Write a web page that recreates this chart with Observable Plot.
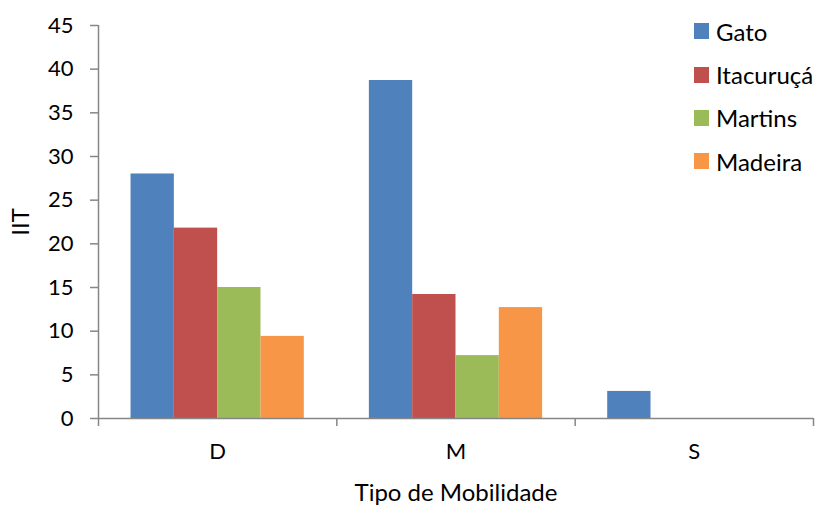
<!DOCTYPE html>
<html>
<head>
<meta charset="utf-8">
<script src="https://cdn.jsdelivr.net/npm/d3@7"></script>
<script src="https://cdn.jsdelivr.net/npm/@observablehq/plot@0.6"></script>
<style>
  body { margin: 0; background: #fff; }
  #wrap { position: relative; width: 818px; height: 505px; font-family: Lato, "Open Sans", sans-serif; }
  #legend { position: absolute; left: 694px; top: 9.5px; font-size: 24px; color: #000; }
  #legend .row { display: flex; align-items: center; height: 43.4px; }
  #legend .sw { width: 15px; height: 16px; margin-right: 7px; }
</style>
</head>
<body>
<div id="wrap"></div>
<script>
const categories = ["D", "M", "S"];
const series = ["Gato", "Itacuruçá", "Martins", "Madeira"];
const colors = ["#4F81BD", "#C0504D", "#9BBB59", "#F79646"];
const values = {
  "Gato":      [28.0, 38.7, 3.1],
  "Itacuruçá": [21.8, 14.2, 0],
  "Martins":   [15.0, 7.2, 0],
  "Madeira":   [9.4, 12.7, 0]
};
const yTicks = [0, 5, 10, 15, 20, 25, 30, 35, 40, 45];

const groupFrac = 0.727;
const pad = (1 - groupFrac) / 2;
const w = groupFrac / series.length;
const data = [];
categories.forEach((c, i) => series.forEach((s, j) => {
  data.push({cat: c, series: s, value: values[s][i],
             x1: i + pad + j * w, x2: i + pad + (j + 1) * w});
}));

const axisColor = "#868686";
const chart = Plot.plot({
  width: 818, height: 505,
  marginLeft: 98, marginRight: 5, marginTop: 25, marginBottom: 87,
  style: {fontFamily: "Lato, 'Open Sans', sans-serif", fontSize: "22px", color: "#000", background: "#fff"},
  x: {domain: [0, categories.length]},
  y: {domain: [0, 45]},
  color: {domain: series, range: colors},
  marks: [
    Plot.rectY(data, {x1: "x1", x2: "x2", y: "value", fill: "series"}),
    Plot.ruleX([0], {stroke: axisColor, strokeWidth: 1.5}),
    Plot.ruleY([0], {stroke: axisColor, strokeWidth: 1.5}),
    Plot.axisY({ticks: yTicks, tickSize: 8, tickPadding: 17, stroke: axisColor, strokeWidth: 1.5,
                fontSize: 22, fill: "#000", label: null}),
    Plot.axisY({ticks: [], tickSize: 0, label: "IIT", labelAnchor: "center", labelArrow: "none",
                labelOffset: 87, fontSize: 24, fill: "#000"}),
    Plot.axisX({ticks: d3.range(categories.length + 1), tickSize: 8, tickFormat: () => "",
                stroke: axisColor, strokeWidth: 1.5, label: null}),
    Plot.axisX({ticks: categories.map((c, i) => i + 0.5), tickSize: 0, tickPadding: 25,
                tickFormat: (d) => categories[Math.floor(d)], fill: "#000", fontSize: 22, label: null}),
    Plot.axisX({ticks: [], tickSize: 0, label: "Tipo de Mobilidade", labelAnchor: "center",
                labelArrow: "none", labelOffset: 82, fontSize: 24, fill: "#000"})
  ]
});
const wrap = document.getElementById("wrap");
wrap.appendChild(chart);

const legend = document.createElement("div");
legend.id = "legend";
series.forEach((s, j) => {
  const row = document.createElement("div");
  row.className = "row";
  const sw = document.createElement("div");
  sw.className = "sw";
  sw.style.background = colors[j];
  const t = document.createElement("span");
  t.textContent = s;
  row.appendChild(sw); row.appendChild(t);
  legend.appendChild(row);
});
wrap.appendChild(legend);
</script>
</body>
</html>
